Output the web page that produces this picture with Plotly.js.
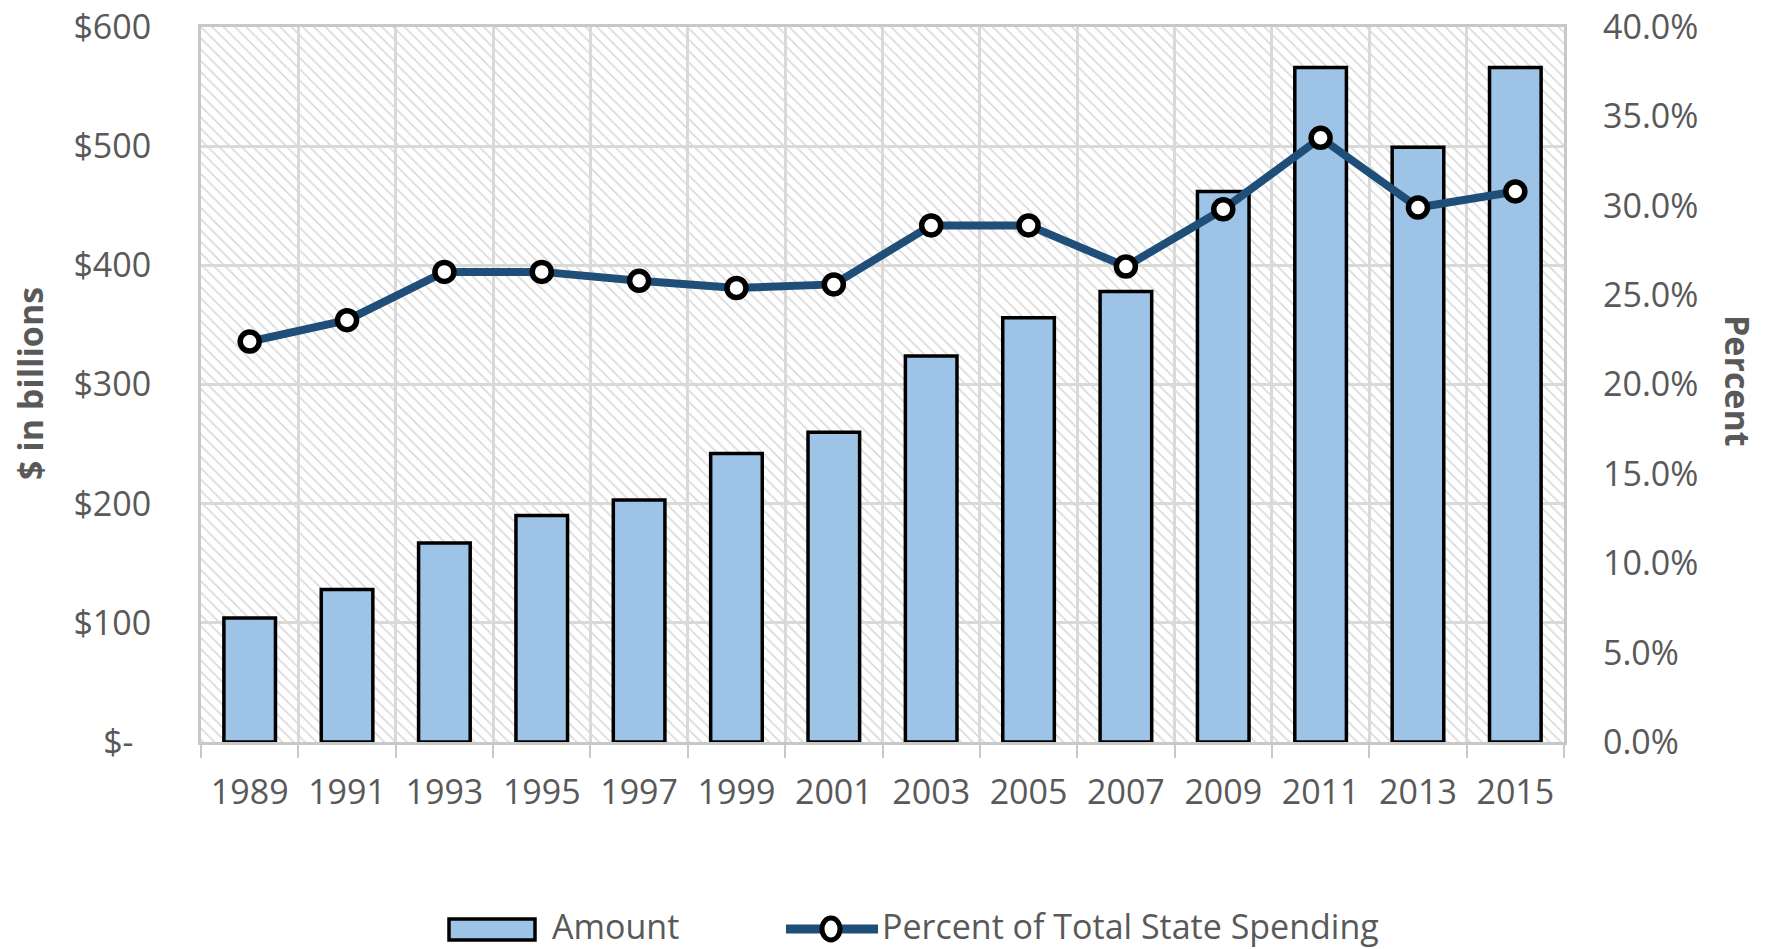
<!DOCTYPE html>
<html>
<head>
<meta charset="utf-8">
<script src="https://cdn.plot.ly/plotly-3.0.1.min.js"></script>
<style>
  html, body { margin: 0; padding: 0; background: #ffffff; }
  #chart { width: 1769px; height: 949px; }
</style>
</head>
<body>
<div id="chart"></div>
<script>
// ---- Data ----
const years = ['1989','1991','1993','1995','1997','1999','2001','2003','2005','2007','2009','2011','2013','2015'];
const amountBillions = [104, 128, 167, 190, 203, 242, 260, 324, 356, 378, 462, 566, 499, 566];
const percentOfSpending = [22.4, 23.6, 26.3, 26.3, 25.8, 25.4, 25.6, 28.9, 28.9, 26.6, 29.8, 33.8, 29.9, 30.8];
const leftTickVals = [0, 100, 200, 300, 400, 500, 600];
const leftTickText = ['$-\u00a0\u00a0', '$100', '$200', '$300', '$400', '$500', '$600'];
const rightTickVals = [0, 5, 10, 15, 20, 25, 30, 35, 40];
const rightTickText = ['0.0%', '5.0%', '10.0%', '15.0%', '20.0%', '25.0%', '30.0%', '35.0%', '40.0%'];

const Y_MAX = 600, Y2_MAX = 40;
const FONT = '"Open Sans", "Noto Sans", sans-serif';
const GRAY_TEXT = '#595959';
const GRID = '#d9d9d9';
const BAR_FILL = '#9DC3E6';
const LINE_COLOR = '#1F4E79';
const TICK_SIZE = 34;

// Plot-area geometry (pixels)
const W = 1769, H = 949;
const L = 201, R = 1564, T = 27, B = 742;
const px = x => (x - L) / (R - L);
const py = y => (B - y) / (B - T);

const background = {
  type: 'bar',
  x: [years[0]],
  y: [Y_MAX],
  offset: -0.5,
  width: years.length,
  marker: {
    color: 'rgba(0,0,0,0)',
    line: { width: 0 },
    pattern: { shape: '\\', fgcolor: '#d9d9d9', bgcolor: 'rgba(0,0,0,0)', size: 8, solidity: 0.2 }
  },
  hoverinfo: 'skip',
  showlegend: false,
  xaxis: 'x', yaxis: 'y'
};

const amountTrace = {
  type: 'bar',
  name: 'Amount',
  x: years,
  y: amountBillions,
  marker: { color: BAR_FILL, line: { color: '#000000', width: 3.5 } },
  xaxis: 'x', yaxis: 'y'
};

const percentTrace = {
  type: 'scatter',
  mode: 'lines+markers',
  name: 'Percent of Total State Spending',
  x: years,
  y: percentOfSpending,
  line: { color: LINE_COLOR, width: 8 },
  marker: { symbol: 'circle', size: 19, color: '#ffffff', line: { color: '#000000', width: 5.5 } },
  cliponaxis: false,
  xaxis: 'x', yaxis: 'y2'
};

const layout = {
  width: W, height: H,
  margin: { l: L, r: W - R, t: T, b: H - B, pad: 0 },
  paper_bgcolor: '#ffffff',
  plot_bgcolor: '#ffffff',
  showlegend: false,
  barmode: 'overlay',
  bargap: 0.47,
  font: { family: FONT, color: GRAY_TEXT, size: TICK_SIZE },
  xaxis: {
    type: 'category',
    range: [-0.5, years.length - 0.5],
    tickson: 'boundaries',
    ticks: 'outside',
    ticklen: 13,
    tickwidth: 2,
    tickcolor: '#c8c8c8',
    ticklabelstandoff: 18,
    showgrid: true,
    gridcolor: GRID,
    gridwidth: 3,
    showline: true,
    linecolor: '#c8c8c8',
    linewidth: 3,
    mirror: true,
    tickfont: { family: FONT, size: TICK_SIZE, color: GRAY_TEXT },
    fixedrange: true
  },
  yaxis: {
    range: [0, Y_MAX],
    tickvals: leftTickVals,
    ticktext: leftTickText,
    ticks: '',
    ticklabelstandoff: 40,
    showgrid: true,
    gridcolor: GRID,
    gridwidth: 3,
    zeroline: false,
    showline: true,
    linecolor: '#c8c8c8',
    linewidth: 3,
    mirror: true,
    tickfont: { family: FONT, size: TICK_SIZE, color: GRAY_TEXT },
    fixedrange: true
  },
  yaxis2: {
    overlaying: 'y',
    side: 'right',
    range: [0, Y2_MAX],
    tickvals: rightTickVals,
    ticktext: rightTickText,
    ticks: '',
    ticklabelstandoff: 38,
    showgrid: false,
    zeroline: false,
    showline: false,
    tickfont: { family: FONT, size: TICK_SIZE, color: GRAY_TEXT },
    fixedrange: true
  },
  annotations: [
    { text: '<b>$ in billions</b>', xref: 'paper', yref: 'paper', x: px(30), y: py(384),
      xanchor: 'center', yanchor: 'middle', textangle: -90, showarrow: false,
      font: { family: FONT, size: 34, color: GRAY_TEXT } },
    { text: '<b>Percent</b>', xref: 'paper', yref: 'paper', x: px(1738), y: py(381),
      xanchor: 'center', yanchor: 'middle', textangle: 90, showarrow: false,
      font: { family: FONT, size: 34, color: GRAY_TEXT } },
    { text: amountTrace.name, xref: 'paper', yref: 'paper', x: px(551), y: py(950),
      xanchor: 'left', yanchor: 'bottom', showarrow: false, borderpad: 0,
      font: { family: FONT, size: 34, color: GRAY_TEXT } },
    { text: percentTrace.name, xref: 'paper', yref: 'paper', x: px(881), y: py(950),
      xanchor: 'left', yanchor: 'bottom', showarrow: false, borderpad: 0,
      font: { family: FONT, size: 34, color: GRAY_TEXT } }
  ],
  shapes: [
    // legend: Amount box
    { type: 'rect', xref: 'paper', yref: 'paper', x0: px(449), x1: px(535), y0: py(940), y1: py(919),
      fillcolor: BAR_FILL, line: { color: '#000000', width: 3.5 } },
    // legend: line symbol
    { type: 'line', xref: 'paper', yref: 'paper', x0: px(786), x1: px(878), y0: py(929), y1: py(929),
      line: { color: LINE_COLOR, width: 9 } },
    { type: 'circle', xref: 'paper', yref: 'paper', x0: px(822), x1: px(840), y0: py(940), y1: py(918),
      fillcolor: '#ffffff', line: { color: '#000000', width: 5 } }
  ]
};

Plotly.newPlot('chart', [background, amountTrace, percentTrace], layout, { staticPlot: true, displayModeBar: false });
</script>
</body>
</html>
